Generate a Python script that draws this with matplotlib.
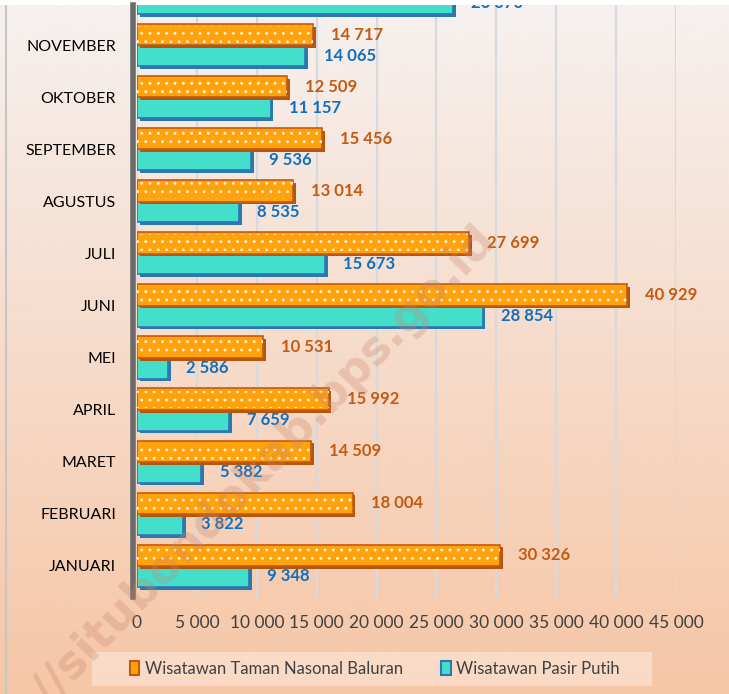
import numpy as np
import matplotlib
matplotlib.use("Agg")
import matplotlib.pyplot as plt
import matplotlib.patheffects as pe
from matplotlib.patches import Patch, Rectangle

# data (JANUARI at the bottom)
months = ["JANUARI", "FEBRUARI", "MARET", "APRIL", "MEI", "JUNI", "JULI",
          "AGUSTUS", "SEPTEMBER", "OKTOBER", "NOVEMBER", "DESEMBER"]
baluran = [30326, 18004, 14509, 15992, 10531, 40929, 27699, 13014, 15456, 12509, 14717, np.nan]
pasir_putih = [9348, 3822, 5382, 7659, 2586, 28854, 15673, 8535, 9536, 11157, 14065, 26370]
xticks = [0, 5000, 10000, 15000, 20000, 25000, 30000, 35000, 40000, 45000]


def fmt(v):
    return f"{int(v):,}".replace(",", " ")


plt.rcParams['font.family'] = ['Lato', 'DejaVu Sans']
plt.rcParams['hatch.linewidth'] = 0.9

fig = plt.figure(figsize=(7.29, 6.94), dpi=100)

# gradient background of the chart area
bg = fig.add_axes([0, 0, 1, 1 - 5 / 694])
top = np.array([0xf6, 0xf1, 0xef]) / 255
bottom = np.array([0xf6, 0xc6, 0xa6]) / 255
t = np.linspace(0, 1, 256)[:, None]
grad = top * (1 - t) + bottom * t
bg.imshow(grad[:, None, :], aspect="auto", extent=[0, 1, 0, 1])
bg.axvline(6 / 729, color="#c6c6c6", lw=1.5)
bg.set_xlim(0, 1)
bg.set_ylim(0, 1)
bg.axis("off")

ax = fig.add_axes([137 / 729, 1 - 597 / 694, (676 - 137) / 729, (597 - 5) / 694])
ax.patch.set_alpha(0)

y = np.arange(len(months))
h = 0.41
orange_c, orange_edge, orange_shadow = "#ffa20c", "#c55a11", "#b3560f"
teal_c, teal_edge, teal_shadow = "#44dfca", "#2e75b6", "#2a79ad"

# Pasir Putih bars (lower)
ax.barh(y - 0.2, pasir_putih, height=h, color=teal_c, edgecolor=teal_edge, lw=1.2, zorder=3,
        path_effects=[pe.SimplePatchShadow(offset=(2, -2), shadow_rgbFace=teal_shadow, alpha=1), pe.Normal()])

# Baluran bars (upper) with white dot pattern
bal = np.nan_to_num(baluran)
ax.barh(y + 0.2, bal, height=h, color=orange_c, edgecolor=orange_edge, lw=1.2, zorder=3,
        path_effects=[pe.SimplePatchShadow(offset=(2, -2), shadow_rgbFace=orange_shadow, alpha=1), pe.Normal()])
ax.barh(y + 0.2, bal, height=h * 0.8, fill=False, edgecolor="#fff3d6", hatch="..", lw=0, zorder=4)

# value labels; only the December one is cut by the top of the plot
for i in range(len(months)):
    clip = i == len(months) - 1
    if not np.isnan(baluran[i]):
        ax.annotate(fmt(baluran[i]), (baluran[i], i + 0.2), xytext=(13, 0), textcoords="offset points",
                    ha="left", va="center", color="#c55a11", fontsize=12, fontweight="bold",
                    annotation_clip=False, clip_on=clip, zorder=5)
    ax.annotate(fmt(pasir_putih[i]), (pasir_putih[i], i - 0.2), xytext=(13, 0), textcoords="offset points",
                ha="left", va="center", color="#0f6fc0", fontsize=12, fontweight="bold",
                annotation_clip=False, clip_on=clip, zorder=5)

ax.set_xticks(xticks)
ax.set_xticklabels([fmt(v) for v in xticks], color="#404040")
ax.set_yticks(y[:-1])
ax.set_yticklabels(months[:-1], color="#404040")
ax.set_xlim(0, 45000)
ax.set_ylim(-0.6, 10.77)
ax.tick_params(axis="both", length=0)
ax.tick_params(axis="x", pad=13, labelsize=12.5)
ax.tick_params(axis="y", pad=12, labelsize=11.5)
ax.grid(axis="x", color="#d6d9de", lw=1.6, zorder=0)
for s in ["top", "right", "bottom"]:
    ax.spines[s].set_visible(False)
ax.spines["left"].set_color("#6b6b6b")
ax.spines["left"].set_linewidth(4)
ax.spines["left"].set_position(("outward", 3))

# watermark
fig.text(488 / 729, 1 - 232 / 694, "https://situbondokab.bps.go.id", rotation=46,
         rotation_mode="anchor", ha="right", va="center", fontsize=33, fontweight="bold",
         color="#c8866a", alpha=0.3, family="DejaVu Sans")

# legend box
fig.patches.append(Rectangle((92 / 729, 1 - 686 / 694), 560 / 729, 34 / 694, transform=fig.transFigure,
                             facecolor="white", alpha=0.35, edgecolor="none", zorder=1))
handles = [Patch(facecolor=orange_c, edgecolor=orange_edge, lw=1.5),
           Patch(facecolor=teal_c, edgecolor=teal_edge, lw=1.5)]
leg = fig.legend(handles, ["Wisatawan Taman Nasonal Baluran", "Wisatawan Pasir Putih"],
                 loc="center", bbox_to_anchor=(375 / 729, 1 - 669 / 694), ncol=2, fontsize=12,
                 frameon=False, handlelength=0.55, handleheight=0.9,
                 handletextpad=0.35, columnspacing=2.3, borderaxespad=0)
for txt in leg.get_texts():
    txt.set_color("#404040")

fig.savefig("out.png", dpi=100)
